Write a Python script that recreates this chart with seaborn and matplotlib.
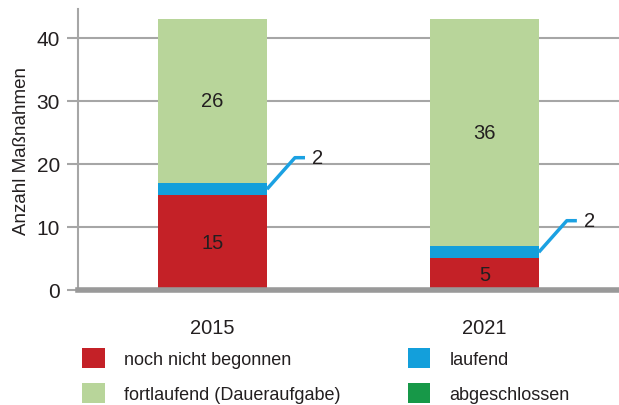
import matplotlib
matplotlib.use("Agg")
import matplotlib.pyplot as plt
import matplotlib.patches as mpatches
import seaborn as sns
import numpy as np
import pandas as pd

years = ["2015", "2021"]
noch_nicht = [15, 5]
laufend = [2, 2]
fortlaufend = [26, 36]
abgeschlossen = [0, 0]
series_names = ["noch nicht begonnen", "laufend", "fortlaufend (Daueraufgabe)", "abgeschlossen"]
colors = {"noch nicht begonnen": "#C42127", "laufend": "#139FDB",
          "fortlaufend (Daueraufgabe)": "#B8D59A", "abgeschlossen": "#179848"}
yticks = [0, 10, 20, 30, 40]

sns.set_theme(style="white")
plt.rcParams["font.family"] = ["Liberation Sans", "DejaVu Sans"]

fig = plt.figure(figsize=(6.19, 4.06), dpi=100)
ax = fig.add_axes([78/619, 115/406, 1 - 78/619, (291 - 10)/406])

values = [noch_nicht, laufend, fortlaufend, abgeschlossen]
bottom = np.zeros(len(years))
for name, vals in zip(series_names, values):
    df = pd.DataFrame({"Jahr": years, "Wert": vals})
    sns.barplot(data=df, x="Jahr", y="Wert", bottom=bottom, color=colors[name],
                width=0.4, ax=ax, saturation=1, linewidth=0, zorder=3, errorbar=None)
    bottom = bottom + np.array(vals)

# labels inside bars
gray_text = "#231F20"
for i in range(len(years)):
    ax.text(i, noch_nicht[i] / 2, str(noch_nicht[i]), ha="center", va="center",
            fontsize=14.5, color=gray_text, zorder=5)
    b = noch_nicht[i] + laufend[i]
    ax.text(i, b + fortlaufend[i] / 2, str(fortlaufend[i]), ha="center", va="center",
            fontsize=14.5, color=gray_text, zorder=5)
    # leader line for laufend
    yc = noch_nicht[i] + laufend[i] / 2
    ax.plot([i + 0.2, i + 0.303, i + 0.34], [yc, yc + 5.0, yc + 5.0],
            color="#1BA1E2", lw=2.5, zorder=5, solid_capstyle="butt")
    ax.text(i + 0.365, yc + 5.0, str(laufend[i]), ha="left", va="center",
            fontsize=14.5, color=gray_text, zorder=5)

ax.set_xlim(-0.495, 1.495)
ax.set_ylim(0, 44.6)
ax.set_yticks(yticks)
ax.set_yticklabels([str(t) for t in yticks])
ax.yaxis.grid(True, color="#A6A6A6", lw=1.5, zorder=0)
ax.set_axisbelow(True)
ax.tick_params(axis="y", left=True, length=8, width=1.5, color="#A6A6A6",
               labelsize=15, labelcolor=gray_text, pad=5)
ax.tick_params(axis="x", bottom=False, labelsize=14.5, labelcolor=gray_text, pad=14)
ax.set_xlabel("")
ax.set_ylabel("Anzahl Maßnahmen", fontsize=13.5, color=gray_text, labelpad=5)

for s in ["top", "right"]:
    ax.spines[s].set_visible(False)
ax.spines["left"].set_color("#A6A6A6")
ax.spines["left"].set_linewidth(1.5)
ax.spines["bottom"].set_color("#999999")
ax.spines["bottom"].set_linewidth(4)
ax.spines["bottom"].set_zorder(6)

order = ["noch nicht begonnen", "fortlaufend (Daueraufgabe)", "laufend", "abgeschlossen"]
handles = [mpatches.Patch(facecolor=colors[n], edgecolor="none", label=n) for n in order]
fig.legend(handles=handles, loc="upper left", bbox_to_anchor=(82/619, 1 - 349/406),
           ncol=2, frameon=False, fontsize=13, handlelength=1.25, handleheight=1.3,
           handletextpad=1.05, columnspacing=3.75, labelspacing=0.85, borderpad=0,
           borderaxespad=0, labelcolor=gray_text)

fig.savefig("out.png", dpi=100)
